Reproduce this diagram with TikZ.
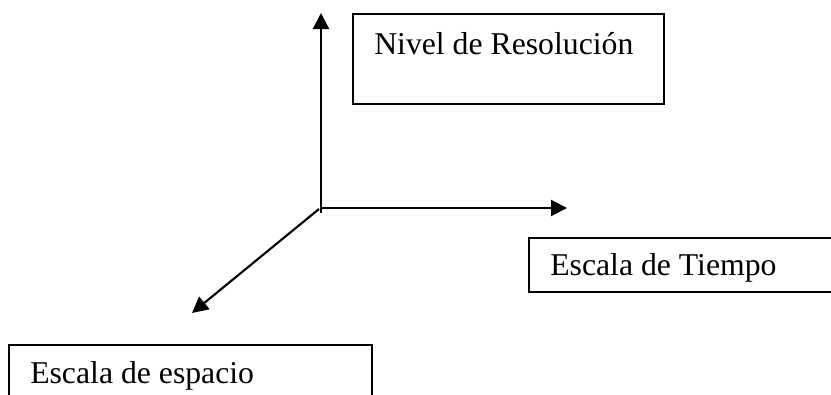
\documentclass[tikz,border=0pt]{standalone}
\usepackage{fontspec}
\setmainfont{Liberation Serif}
\usetikzlibrary{arrows.meta}
\tikzset{
  axis/.style={line width=1.6pt, -{Triangle[length=12pt,width=12pt]}},
  labelbox/.style={draw, line width=1.6pt, inner sep=0pt, anchor=north west},
  labeltext/.style={inner sep=0pt, anchor=base west, font=\fontsize{23.8}{28}\selectfont}
}
\begin{document}
\begin{tikzpicture}[x=0.75pt,y=-0.75pt]
\useasboundingbox (0,0) rectangle (831,394);
\clip (0,0) rectangle (831,394);
\fill[white] (0,0) rectangle (831,394);
% boxes
\node[labelbox, minimum width=233.25pt, minimum height=67.5pt] (res) at (352,13) {};
\node[labeltext] (restext) at (374,54) {Nivel de Resolución};
\node[labelbox, minimum width=400pt, minimum height=40.5pt] (tiempo) at (528,237) {};
\node[labeltext] (tiempotext) at (550,275) {Escala de Tiempo};
\node[labelbox, minimum width=272.25pt, minimum height=60pt] (espacio) at (8,344) {};
\node[labeltext] (espaciotext) at (30,383) {Escala de espacio};
% axes
\coordinate (obot) at (321,213);
\coordinate (o) at (320.3,208);
\coordinate (odiag) at (319,209);
\coordinate (up) at (321,13);
\coordinate (right) at (567,208);
\coordinate (diag) at (192,313);
\draw[axis] (obot) -- (up);
\draw[axis] (o) -- (right);
\draw[axis] (odiag) -- (diag);
\end{tikzpicture}
\end{document}
